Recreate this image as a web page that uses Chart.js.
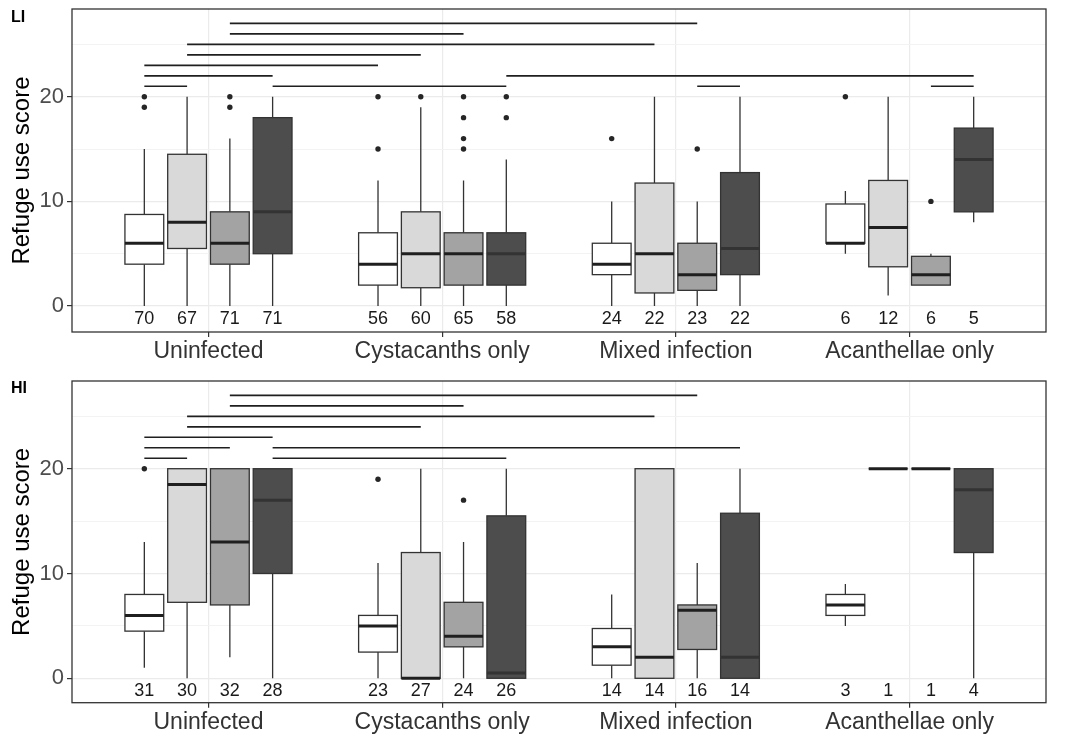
<!DOCTYPE html>
<html lang="en">
<head>
<meta charset="UTF-8" />
<title>Refuge use score</title>
<script src="https://cdn.jsdelivr.net/npm/chart.js"></script>
<style>
  body { margin: 0; background: #fff; }
  .panel { position: absolute; left: 0; width: 1070px; }
  #top { top: 0; height: 368px; }
  #bottom { top: 368px; height: 369px; }
</style>
</head>
<body>
<div class="panel" id="top"><canvas id="liChart"></canvas></div>
<div class="panel" id="bottom"><canvas id="hiChart"></canvas></div>
<script>
const categories = ['Uninfected', 'Cystacanths only', 'Mixed infection', 'Acanthellae only'];
const yTicks = [0, 5, 10, 15, 20, 25];
const yLabelled = [0, 10, 20];

// box stats per category: [lower whisker, q1, median, q3, upper whisker]
const liBoxesA = [[0, 4, 6, 8.75, 15], [0, 2, 4, 7, 12], [0, 3, 4, 6, 10], [5, 6, 6, 9.75, 11]];
const liBoxesB = [[0, 5.5, 8, 14.5, 20], [0, 1.75, 5, 9, 19], [0, 1.25, 5, 11.75, 20], [1, 3.75, 7.5, 12, 20]];
const liBoxesC = [[0, 4, 6, 9, 16], [0, 2, 5, 7, 12], [0, 1.5, 3, 6, 10], [2, 2, 3, 4.75, 5]];
const liBoxesD = [[0, 5, 9, 18, 20], [0, 2, 5, 7, 14], [0, 3, 5.5, 12.75, 20], [8, 9, 14, 17, 20]];
const liOutliersA = [[19, 20], [15, 20], [16], [20]];
const liOutliersB = [[], [20], [], []];
const liOutliersC = [[19, 20], [15, 16, 18, 20], [15], [10]];
const liOutliersD = [[], [18, 20], [], []];
const liCounts = [[70, 56, 24, 6], [67, 60, 22, 12], [71, 65, 23, 6], [71, 58, 22, 5]];
// [from category, from series, to category, to series, height]
const liSigLines = [
  [0, 2, 2, 2, 27], [0, 2, 1, 2, 26], [0, 1, 2, 1, 25], [0, 1, 1, 1, 24],
  [0, 0, 1, 0, 23], [0, 0, 0, 3, 22], [1, 3, 3, 3, 22], [0, 0, 0, 1, 21],
  [0, 3, 1, 3, 21], [2, 2, 2, 3, 21], [3, 2, 3, 3, 21]
];

const hiBoxesA = [[1, 4.5, 6, 8, 13], [0, 2.5, 5, 6, 11], [0, 1.25, 3, 4.75, 8], [5, 6, 7, 8, 9]];
const hiBoxesB = [[0, 7.25, 18.5, 20, 20], [0, 0, 0, 12, 20], [0, 0, 2, 20, 20], [20, 20, 20, 20, 20]];
const hiBoxesC = [[2, 7, 13, 20, 20], [0, 3, 4, 7.25, 13], [0, 2.75, 6.5, 7, 11], [20, 20, 20, 20, 20]];
const hiBoxesD = [[0, 10, 17, 20, 20], [0, 0, 0.5, 15.5, 20], [0, 0, 2, 15.75, 20], [0, 12, 18, 20, 20]];
const hiOutliersA = [[20], [19], [], []];
const hiOutliersB = [[], [], [], []];
const hiOutliersC = [[], [17], [], []];
const hiOutliersD = [[], [], [], []];
const hiCounts = [[31, 23, 14, 3], [30, 27, 14, 1], [32, 24, 16, 1], [28, 26, 14, 4]];
const hiSigLines = [
  [0, 2, 2, 2, 27], [0, 2, 1, 2, 26], [0, 1, 2, 1, 25], [0, 1, 1, 1, 24],
  [0, 0, 0, 3, 23], [0, 0, 0, 2, 22], [0, 3, 2, 3, 22], [0, 0, 0, 1, 21],
  [0, 3, 1, 3, 21]
];

const fills = ['#ffffff', '#d9d9d9', '#a3a3a3', '#4d4d4d'];
const FONT = '"Liberation Sans", Arial, sans-serif';
const dodge = [-1.5, -0.5, 0.5, 1.5].map((d) => d * 0.183);
const boxWidth = 0.166;
const countY = -1.2;

const boxPlugin = {
    id: 'boxes',
    beforeDatasetsDraw(chart) {
        const { ctx, scales: { x, y } } = chart;
        const cfg = chart.options.plugins.boxes;
        const half = (x.getPixelForValue(boxWidth) - x.getPixelForValue(0)) / 2;
        ctx.save();
        ctx.beginPath();
        ctx.rect(chart.chartArea.left, chart.chartArea.top, chart.chartArea.width, chart.chartArea.height);
        ctx.clip();
        cfg.boxes.forEach((series, si) => {
            series.forEach((b, ci) => {
                const xc = x.getPixelForValue(ci + 1 + dodge[si]);
                const [lo, q1, med, q3, hi] = b.map((v) => y.getPixelForValue(v));
                ctx.strokeStyle = '#333';
                ctx.lineWidth = 1.3;
                ctx.beginPath();
                ctx.moveTo(xc, hi); ctx.lineTo(xc, q3);
                ctx.moveTo(xc, q1); ctx.lineTo(xc, lo);
                ctx.stroke();
                ctx.fillStyle = fills[si];
                ctx.fillRect(xc - half, q3, half * 2, q1 - q3);
                ctx.strokeRect(xc - half, q3, half * 2, q1 - q3);
                ctx.strokeStyle = si === 3 ? '#333' : '#1f1f1f';
                ctx.lineWidth = 3;
                ctx.beginPath();
                ctx.moveTo(xc - half, med); ctx.lineTo(xc + half, med);
                ctx.stroke();
            });
        });
        ctx.restore();

        // sample sizes under each box
        ctx.save();
        ctx.font = '18px ' + FONT;
        ctx.fillStyle = '#1a1a1a';
        ctx.textAlign = 'center';
        ctx.textBaseline = 'middle';
        cfg.counts.forEach((series, si) => {
            series.forEach((n, ci) => {
                ctx.fillText(String(n), x.getPixelForValue(ci + 1 + dodge[si]), y.getPixelForValue(countY));
            });
        });
        ctx.restore();
    },
    afterDraw(chart) {
        const { ctx, chartArea: a } = chart;
        const cfg = chart.options.plugins.boxes;
        ctx.save();
        ctx.strokeStyle = '#333';
        ctx.lineWidth = 1.3;
        ctx.strokeRect(a.left, a.top, a.width, a.height);
        ctx.font = 'bold 16px ' + FONT;
        ctx.fillStyle = '#000';
        ctx.textBaseline = 'middle';
        ctx.fillText(cfg.label, 11, cfg.labelY);
        ctx.restore();
    }
};

function buildPanel(canvasId, opts) {
    const datasets = [];
    opts.outliers.forEach((series, si) => {
        const pts = [];
        series.forEach((vals, ci) => vals.forEach((v) => pts.push({ x: ci + 1 + dodge[si], y: v })));
        datasets.push({
            data: pts,
            pointRadius: 2.7,
            pointBackgroundColor: '#262626',
            pointBorderWidth: 0,
            showLine: false,
        });
    });
    opts.sig.forEach(([c1, s1, c2, s2, h]) => {
        datasets.push({
            data: [{ x: c1 + 1 + dodge[s1], y: h }, { x: c2 + 1 + dodge[s2], y: h }],
            showLine: true,
            borderColor: '#1f1f1f',
            borderWidth: 1.7,
            pointRadius: 0,
        });
    });

    return new Chart(document.getElementById(canvasId), {
        type: 'scatter',
        data: { datasets },
        plugins: [boxPlugin],
        options: {
            responsive: true,
            maintainAspectRatio: false,
            animation: false,
            layout: { padding: { top: opts.top, right: 24, left: 0, bottom: 0 } },
            plugins: {
                legend: { display: false },
                tooltip: { enabled: false },
                boxes: { boxes: opts.boxes, counts: opts.counts, label: opts.label, labelY: opts.labelY },
            },
            scales: {
                x: {
                    type: 'linear',
                    min: 0.416,
                    max: 4.584,
                    afterBuildTicks: (s) => { s.ticks = categories.map((c, i) => ({ value: i + 1 })); },
                    afterFit: (s) => {
                        s.height = opts.axisHeight;
                        s.paddingLeft = 0;
                        s.paddingRight = 0;
                    },
                    ticks: {
                        callback: (v) => categories[v - 1],
                        color: '#333',
                        font: { size: 23, family: FONT },
                        padding: 1,
                        maxRotation: 0,
                        autoSkip: false,
                    },
                    grid: { color: '#ebebeb', lineWidth: 1.2, tickColor: '#333', tickLength: 5 },
                    border: { display: false },
                },
                y: {
                    min: opts.yMin,
                    max: opts.yMax,
                    afterBuildTicks: (s) => { s.ticks = yTicks.map((v) => ({ value: v })); },
                    afterFit: (s) => {
                        s.width = 72;
                        s.paddingTop = 0;
                        s.paddingBottom = 0;
                    },
                    ticks: {
                        callback: (v) => (yLabelled.includes(v) ? v : ''),
                        color: '#4d4d4d',
                        font: { size: 22, family: FONT },
                        padding: 3,
                    },
                    grid: {
                        color: (c) => (yLabelled.includes(c.tick.value) ? '#ebebeb' : '#f2f2f2'),
                        lineWidth: (c) => (yLabelled.includes(c.tick.value) ? 1.2 : 0.9),
                        tickColor: (c) => (yLabelled.includes(c.tick.value) ? '#333' : 'rgba(0,0,0,0)'),
                        tickLength: 5,
                    },
                    border: { display: false },
                    title: {
                        display: true,
                        text: 'Refuge use score',
                        color: '#000',
                        font: { size: 24, family: FONT },
                        padding: { top: 8, bottom: 0 },
                    },
                },
            },
        },
    });
}

buildPanel('liChart', {
    boxes: [liBoxesA, liBoxesB, liBoxesC, liBoxesD],
    outliers: [liOutliersA, liOutliersB, liOutliersC, liOutliersD],
    counts: liCounts,
    sig: liSigLines,
    top: 9,
    axisHeight: 36,
    yMin: -2.48,
    yMax: 28.38,
    label: 'LI',
    labelY: 18,
});

buildPanel('hiChart', {
    boxes: [hiBoxesA, hiBoxesB, hiBoxesC, hiBoxesD],
    outliers: [hiOutliersA, hiOutliersB, hiOutliersC, hiOutliersD],
    counts: hiCounts,
    sig: hiSigLines,
    top: 13,
    axisHeight: 34.3,
    yMin: -2.33,
    yMax: 28.37,
    label: 'HI',
    labelY: 21,
});
</script>
</body>
</html>
